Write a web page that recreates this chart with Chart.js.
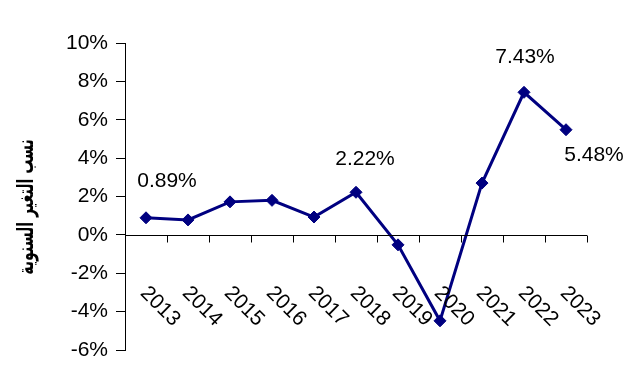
<!DOCTYPE html>
<html>
<head>
<meta charset="utf-8">
<script src="https://cdn.jsdelivr.net/npm/chart.js@4.4.0/dist/chart.umd.min.js"></script>
<style>
  html, body { margin: 0; padding: 0; background: #fff; }
  #wrap { width: 630px; height: 380px; }
</style>
</head>
<body>
<div id="wrap"><canvas id="rateChart" width="630" height="380"></canvas></div>
<script>
const years = ["2013", "2014", "2015", "2016", "2017", "2018", "2019", "2020", "2021", "2022", "2023"];
const rates = [0.89, 0.78, 1.72, 1.8, 0.93, 2.22, -0.52, -4.48, 2.7, 7.43, 5.48];
const yTicks = [-6, -4, -2, 0, 2, 4, 6, 8, 10];
const labeledPoints = [0, 5, 9, 10];
const yTitle = "نسب التغير السنوية";

const FONT = "Arial, 'Liberation Sans', sans-serif";
const navy = "#000080";

// offsets of the value labels from their points
const labelShift = { 0: [21, -37], 5: [9, -33], 9: [1, -35], 10: [28, 25] };

const customDraw = {
  id: "customDraw",
  afterDraw(chart) {
    const ctx = chart.ctx;
    const x = chart.scales.x;
    const y = chart.scales.y;
    const zeroY = Math.round(y.getPixelForValue(0)) + 0.5;
    const area = chart.chartArea;
    const step = (area.right - area.left) / years.length;
    ctx.save();
    // zero axis line and ticks
    ctx.strokeStyle = "#000";
    ctx.lineWidth = 1;
    ctx.beginPath();
    ctx.moveTo(area.left, zeroY);
    ctx.lineTo(area.right, zeroY);
    for (let i = 1; i <= years.length; i++) {
      const tx = Math.round(area.left + step * i) + 0.5;
      ctx.moveTo(tx, zeroY);
      ctx.lineTo(tx, zeroY + 7);
    }
    ctx.stroke();
    // rotated year labels
    ctx.fillStyle = "#000";
    ctx.font = "21px " + FONT;
    ctx.textAlign = "center";
    ctx.textBaseline = "middle";
    years.forEach((yr, i) => {
      const cx = x.getPixelForValue(i) + 14;
      ctx.save();
      ctx.translate(cx, zeroY + 71);
      ctx.rotate(Math.PI / 4);
      ctx.fillText(yr, 0, 0);
      ctx.restore();
    });
    // value labels
    labeledPoints.forEach((i) => {
      const px = x.getPixelForValue(i) + labelShift[i][0];
      const py = y.getPixelForValue(rates[i]) + labelShift[i][1];
      ctx.fillText(rates[i].toFixed(2) + "%", px, py);
    });
    // y title
    ctx.font = "bold 22px 'DejaVu Sans', sans-serif";
    ctx.translate(27, 207);
    ctx.rotate(-Math.PI / 2);
    ctx.scale(0.64, 1);
    ctx.fillText(yTitle, 0, 0);
    ctx.restore();
  }
};

new Chart(document.getElementById("rateChart"), {
  type: "line",
  data: {
    labels: years,
    datasets: [{
      data: rates,
      borderColor: navy,
      backgroundColor: navy,
      borderWidth: 3,
      pointStyle: "rectRot",
      pointRadius: 6,
      pointBackgroundColor: navy,
      pointBorderColor: navy,
      pointBorderWidth: 1,
      tension: 0
    }]
  },
  options: {
    responsive: false,
    animation: false,
    layout: { padding: { left: 0, top: 43, right: 43, bottom: 30 } },
    plugins: { legend: { display: false }, tooltip: { enabled: false } },
    scales: {
      x: { display: false, offset: true },
      y: {
        min: -6,
        max: 10,
        afterFit: (scale) => { scale.width = 125; },
        afterBuildTicks: (scale) => { scale.ticks = yTicks.map((v) => ({ value: v })); },
        border: { display: true, color: "#000", width: 1 },
        grid: { drawOnChartArea: false, tickLength: 9, color: "#000" },
        ticks: {
          padding: 8,
          color: "#000",
          font: { family: FONT, size: 21 },
          callback: (v) => v + "%"
        }
      }
    }
  },
  plugins: [customDraw]
});
</script>
</body>
</html>
